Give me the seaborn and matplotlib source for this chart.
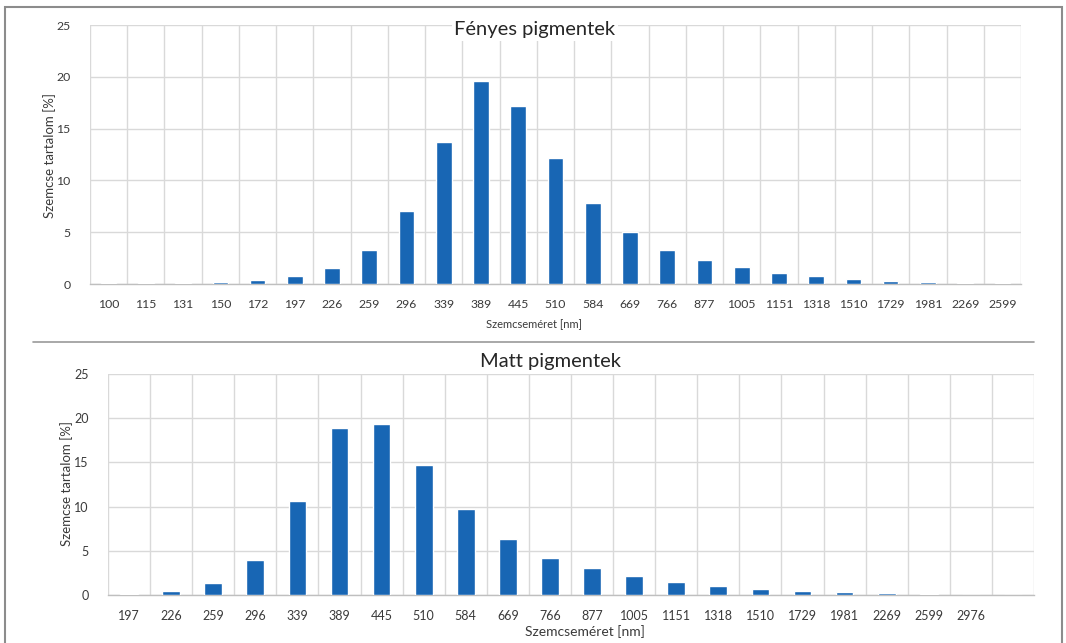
import numpy as np
import matplotlib
matplotlib.use("Agg")
import matplotlib.pyplot as plt
import seaborn as sns
from matplotlib.patches import Rectangle
from matplotlib.lines import Line2D

# Fényes pigmentek (glossy)
fenyes_sizes = ["100", "115", "131", "150", "172", "197", "226", "259", "296", "339",
                "389", "445", "510", "584", "669", "766", "877", "1005", "1151", "1318",
                "1510", "1729", "1981", "2269", "2599"]
fenyes_values = [0.05, 0.07, 0.1, 0.2, 0.35, 0.75, 1.5, 3.3, 7.0, 13.7,
                 19.6, 17.2, 12.2, 7.8, 5.0, 3.3, 2.3, 1.6, 1.05, 0.75,
                 0.5, 0.3, 0.2, 0.1, 0.07]

# Matt pigmentek (matte)
matt_sizes = ["197", "226", "259", "296", "339", "389", "445", "510", "584", "669",
              "766", "877", "1005", "1151", "1318", "1510", "1729", "1981", "2269", "2599",
              "2976", ""]
matt_values = [0.15, 0.45, 1.35, 4.0, 10.6, 18.9, 19.3, 14.7, 9.7, 6.3,
               4.2, 3.0, 2.1, 1.5, 1.0, 0.7, 0.45, 0.3, 0.17, 0.12,
               0.05, 0.0]

y_ticks = [0, 5, 10, 15, 20, 25]

sns.set_theme(style="white")
plt.rcParams['font.family'] = ['Lato', 'DejaVu Sans']

BAR = "#1866b4"
GRID = "#d9d9d9"
TXT = "#3a3a3a"
W, H = 1066, 643

fig = plt.figure(figsize=(W / 100, H / 100), dpi=100)
fig.patch.set_facecolor("white")


def fx(px):
    return px / W


def fy(py):
    return 1 - py / H


def draw_panel(rect, sizes, values, tick_size):
    ax = fig.add_axes(rect)
    sns.barplot(x=sizes, y=values, color=BAR, width=0.42, saturation=1, ax=ax, zorder=3)
    n = len(sizes)
    ax.set_xlim(-0.5, n - 0.5)
    ax.set_ylim(0, 25)
    ax.set_yticks(y_ticks)
    ax.set_xticks(np.arange(n) + 0.5, minor=True)
    ax.set_xticks(np.arange(n))
    ax.set_xticklabels(sizes)
    ax.grid(True, which="minor", axis="x", color=GRID, lw=1, zorder=0)
    ax.grid(True, which="major", axis="y", color=GRID, lw=1, zorder=0)
    ax.axvline(-0.5, color=GRID, lw=1, zorder=0)
    for s in ["top", "right", "left"]:
        ax.spines[s].set_visible(False)
    ax.spines["bottom"].set_color("#bfbfbf")
    ax.spines["bottom"].set_linewidth(1)
    ax.tick_params(axis="both", which="both", length=0, labelsize=tick_size, colors=TXT)
    ax.tick_params(axis="x", pad=11)
    ax.tick_params(axis="y", pad=14)
    ax.set_xlabel("")
    ax.set_ylabel("")
    return ax


# top panel
ax1 = draw_panel([fx(90), fy(284), fx(1021) - fx(90), fy(25) - fy(284)],
                 fenyes_sizes, fenyes_values, 8.8)
fig.text(fx(535), fy(30), "Fényes pigmentek", ha="center", va="center",
         fontsize=14.5, color="#262626",
         bbox=dict(facecolor="white", edgecolor="none", pad=1.5), zorder=10)
fig.text(fx(534), fy(325), "Szemcseméret [nm]", ha="center", va="center",
         fontsize=8, color=TXT)
fig.text(fx(50), fy(156), "Szemcse tartalom [%]", ha="center", va="center",
         rotation=90, fontsize=9.5, color=TXT)

# bottom panel
ax2 = draw_panel([fx(108), fy(595), fx(1034) - fx(108), fy(374) - fy(595)],
                 matt_sizes, matt_values, 9)
fig.text(fx(550), fy(361), "Matt pigmentek", ha="center", va="center",
         fontsize=14.5, color="#262626")
fig.text(fx(585), fy(632), "Szemcseméret [nm]", ha="center", va="center",
         fontsize=10, color=TXT)
fig.text(fx(67), fy(484), "Szemcse tartalom [%]", ha="center", va="center",
         rotation=90, fontsize=9.5, color=TXT)

# separator and outer frame
fig.add_artist(Line2D([fx(33), fx(1034)], [fy(342), fy(342)], color="#9a9a9a", lw=1.2))
fig.add_artist(Rectangle((fx(5), fy(650)), fx(1062) - fx(5), fy(7) - fy(650),
                         fill=False, edgecolor="#8c8c8c", lw=1.5))

fig.savefig("out.png", dpi=100, facecolor="white")
